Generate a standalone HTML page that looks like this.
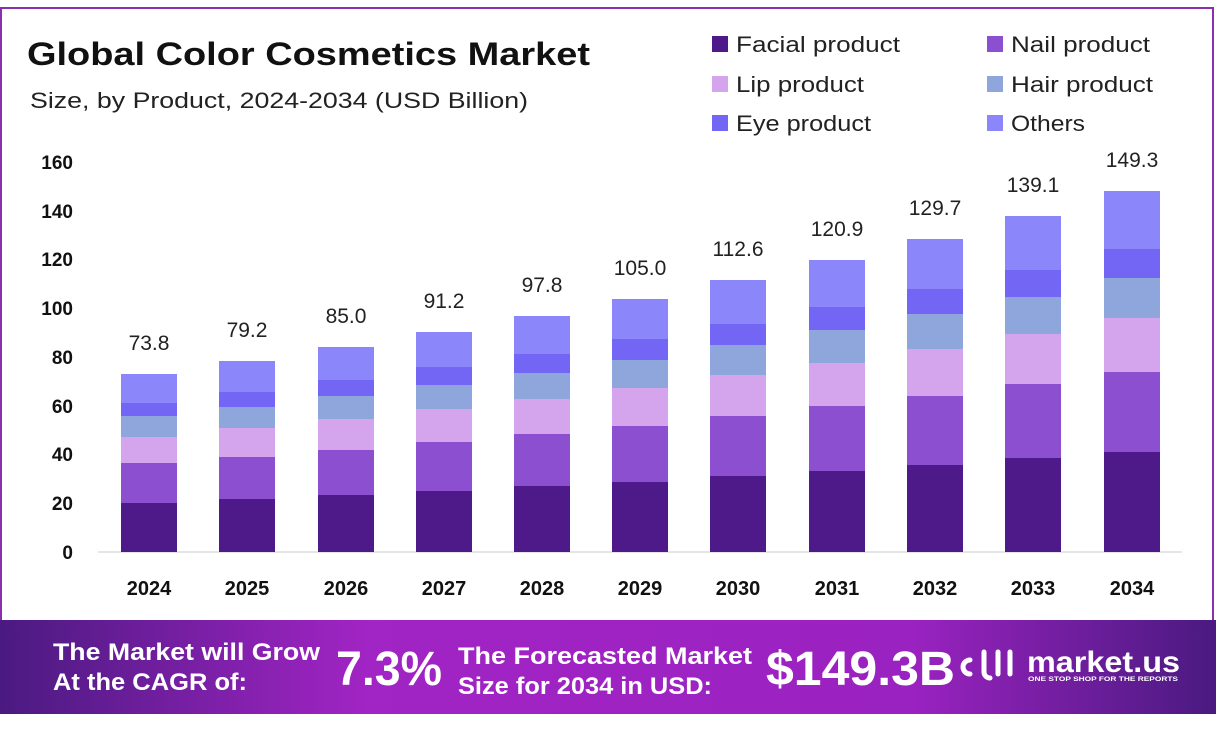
<!DOCTYPE html>
<html><head><style>
body{margin:0;width:1216px;height:732px;background:#fff;overflow:hidden;font-family:"Liberation Sans",sans-serif}
</style></head><body>
<svg width="1216" height="732" xmlns="http://www.w3.org/2000/svg" font-family="Liberation Sans, sans-serif">
<rect x="1" y="8" width="1212" height="620" fill="none" stroke="#8a2fb0" stroke-width="2"/>
<text x="27" y="65" font-size="32" font-weight="bold" fill="#111" textLength="563" lengthAdjust="spacingAndGlyphs">Global Color Cosmetics Market</text>
<text x="30" y="108" font-size="22" fill="#222" textLength="498" lengthAdjust="spacingAndGlyphs">Size, by Product, 2024-2034 (USD Billion)</text>
<g font-size="22" fill="#222">
<rect x="712" y="36" width="16" height="16" fill="#4e1a8a"/><text x="736" y="52" textLength="164" lengthAdjust="spacingAndGlyphs">Facial product</text>
<rect x="987" y="36" width="16" height="16" fill="#8b4fd0"/><text x="1011" y="52" textLength="139" lengthAdjust="spacingAndGlyphs">Nail product</text>
<rect x="712" y="76" width="16" height="16" fill="#d4a4ec"/><text x="736" y="92" textLength="128" lengthAdjust="spacingAndGlyphs">Lip product</text>
<rect x="987" y="76" width="16" height="16" fill="#8ea6dc"/><text x="1011" y="92" textLength="142" lengthAdjust="spacingAndGlyphs">Hair product</text>
<rect x="712" y="115" width="16" height="16" fill="#7366f4"/><text x="736" y="131" textLength="135" lengthAdjust="spacingAndGlyphs">Eye product</text>
<rect x="987" y="115" width="16" height="16" fill="#8b87fa"/><text x="1011" y="131" textLength="74" lengthAdjust="spacingAndGlyphs">Others</text>
</g>
<g font-size="19" font-weight="bold" fill="#111" text-anchor="end">
<text x="73" y="559">0</text><text x="73" y="510">20</text><text x="73" y="461">40</text><text x="73" y="413">60</text><text x="73" y="364">80</text><text x="73" y="315">100</text><text x="73" y="266">120</text><text x="73" y="218">140</text><text x="73" y="169">160</text>
</g>
<line x1="98" y1="552" x2="1182" y2="552" stroke="#ccc" stroke-width="1"/>
<g id="bars"></g>
<g font-size="20" font-weight="bold" fill="#111" text-anchor="middle">
<text x="149" y="595">2024</text><text x="247" y="595">2025</text><text x="346" y="595">2026</text><text x="444" y="595">2027</text><text x="542" y="595">2028</text><text x="640" y="595">2029</text><text x="738" y="595">2030</text><text x="837" y="595">2031</text><text x="935" y="595">2032</text><text x="1033" y="595">2033</text><text x="1132" y="595">2034</text>
</g>
<g font-size="21" fill="#222" text-anchor="middle">
<text x="149" y="350">73.8</text><text x="247" y="337">79.2</text><text x="346" y="323">85.0</text><text x="444" y="308">91.2</text><text x="542" y="292">97.8</text><text x="640" y="275">105.0</text><text x="738" y="256">112.6</text><text x="837" y="236">120.9</text><text x="935" y="215">129.7</text><text x="1033" y="192">139.1</text><text x="1132" y="167">149.3</text>
</g>
<defs><linearGradient id="bg" x1="0" x2="1">
<stop offset="0" stop-color="#4a1a80"/><stop offset="0.3" stop-color="#a124c4"/><stop offset="0.75" stop-color="#9a22c0"/><stop offset="1" stop-color="#4a1a80"/></linearGradient></defs>
<rect x="0" y="620" width="1216" height="94" fill="url(#bg)"/>
<g fill="#fff" font-weight="bold">
<text x="53" y="660" font-size="24" textLength="267" lengthAdjust="spacingAndGlyphs">The Market will Grow</text>
<text x="53" y="690" font-size="24" textLength="194" lengthAdjust="spacingAndGlyphs">At the CAGR of:</text>
<text x="336" y="685" font-size="48" textLength="106" lengthAdjust="spacingAndGlyphs">7.3%</text>
<text x="458" y="664" font-size="24" textLength="294" lengthAdjust="spacingAndGlyphs">The Forecasted Market</text>
<text x="458" y="694" font-size="24" textLength="254" lengthAdjust="spacingAndGlyphs">Size for 2034 in USD:</text>
<text x="766" y="685" font-size="48" textLength="189" lengthAdjust="spacingAndGlyphs">$149.3B</text>
<text x="1027" y="672" font-size="30" textLength="153" lengthAdjust="spacingAndGlyphs">market.us</text>
<text x="1028" y="681" font-size="6" textLength="150" lengthAdjust="spacingAndGlyphs">ONE STOP SHOP FOR THE REPORTS</text>
</g>
<g fill="none" stroke="#fff" stroke-width="5" stroke-linecap="round">
<path d="M970 660 a7 7 0 1 0 0 14"/>
<path d="M984 652 v20 a6 6 0 0 0 6 6"/>
<line x1="998" y1="652" x2="998" y2="674"/>
<line x1="1010" y1="652" x2="1010" y2="674"/>
</g>
</svg>
<script>
var cs=["#8b87fa","#7366f4","#8ea6dc","#d4a4ec","#8b4fd0","#4e1a8a"];
var xs=[149,247,346,444,542,640,738,837,935,1033,1132];
var d=[[374,403,416,437,463,503],[361,392,407,428,457,499],[347,380,396,419,450,495],[332,367,385,409,442,491],[316,354,373,399,434,486],[299,339,360,388,426,482],[280,324,345,375,416,476],[260,307,330,363,406,471],[239,289,314,349,396,465],[216,270,297,334,384,458],[191,249,278,318,372,452]];
var s="";
for(var i=0;i<11;i++){var b=d[i].concat([552]);for(var j=0;j<6;j++){s+='<rect x="'+(xs[i]-28)+'" y="'+b[j]+'" width="56" height="'+(b[j+1]-b[j])+'" fill="'+cs[j]+'"/>';}}
document.getElementById("bars").innerHTML=s;
</script>
</body></html>
